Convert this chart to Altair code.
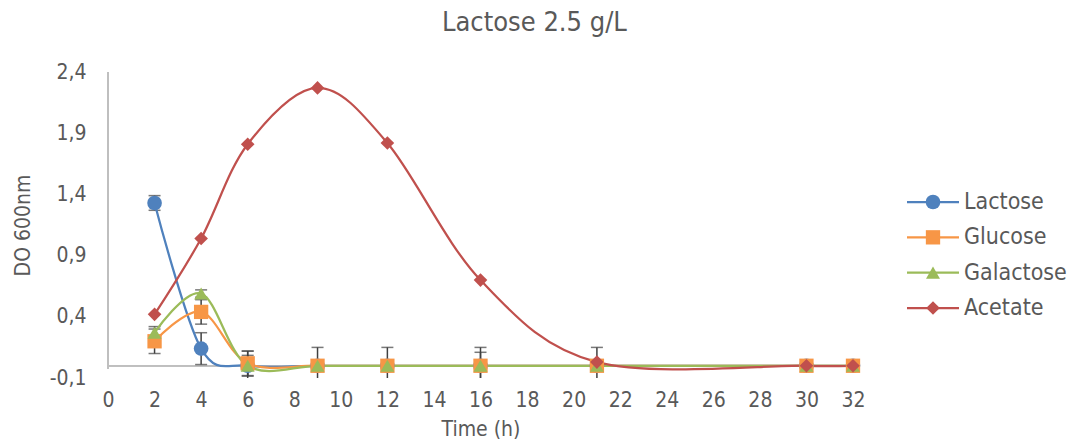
import altair as alt
import pandas as pd

# Sampling times (h)
hours = [2, 4, 6, 9, 12, 16, 21, 30, 32]

# Optical density at 600 nm for each substrate / product
series_names = ["Lactose", "Glucose", "Galactose", "Acetate"]
lactose = [1.33, 0.14, 0.0, 0.0, 0.0, 0.0, 0.0, 0.0, 0.0]
glucose = [0.20, 0.44, 0.02, 0.0, 0.0, 0.0, 0.0, 0.0, 0.0]
galactose = [0.27, 0.59, 0.0, 0.0, 0.0, 0.0, 0.0, 0.0, 0.0]
acetate = [0.42, 1.04, 1.81, 2.27, 1.82, 0.70, 0.03, 0.0, 0.0]

# Standard deviations (0 = no error bar drawn)
lactose_sd = [0.06, 0.13, 0.12, 0.15, 0.15, 0.15, 0.15, 0.0, 0.0]
glucose_sd = [0.10, 0.10, 0.10, 0.0, 0.0, 0.0, 0.0, 0.0, 0.0]
galactose_sd = [0.05, 0.03, 0.085, 0.0, 0.0, 0.11, 0.0, 0.0, 0.0]
acetate_sd = [0.0, 0.0, 0.0, 0.0, 0.0, 0.0, 0.0, 0.0, 0.0]

y_ticks = [-0.1, 0.4, 0.9, 1.4, 1.9, 2.4]
x_ticks = list(range(0, 33, 2))

colors = ["#4F81BD", "#F79646", "#9BBB59", "#C0504D"]
shapes = ["circle", "square", "triangle-up", "diamond"]
marker_sizes = [215, 185, 225, 195]

FONT = "DejaVu Sans Condensed, DejaVu Sans"
TEXT = "#595959"
AXIS = "#BFBFBF"
ERR = "#404040"

values = [lactose, glucose, galactose, acetate]
sds = [lactose_sd, glucose_sd, galactose_sd, acetate_sd]
rows = []
for order, (name, vals, sd) in enumerate(zip(series_names, values, sds)):
    for t, v, s in zip(hours, vals, sd):
        rows.append({"series": name, "order": order, "time": t, "od": v,
                     "lo": v - s, "hi": v + s, "sd": s})
df = pd.DataFrame(rows)

color = alt.Color("series:N", scale=alt.Scale(domain=series_names, range=colors), legend=None)
shape = alt.Shape("series:N", scale=alt.Scale(domain=series_names, range=shapes), legend=None)
size = alt.Size("series:N", scale=alt.Scale(domain=series_names, range=marker_sizes), legend=None)

x_scale = alt.Scale(domain=[0, 32], nice=False, zero=False)
x_enc = alt.X(
    "time:Q",
    scale=x_scale,
    axis=alt.Axis(values=x_ticks, title="Time (h)", domain=False, ticks=False, grid=False,
                  labelFlush=False, labelPadding=11, labelFontSize=21, titleFontSize=21,
                  titleY=51, titleBaseline="middle",
                  labelColor=TEXT, titleColor=TEXT, labelFont=FONT, titleFont=FONT,
                  titleFontWeight="normal"),
)
y_scale = alt.Scale(domain=[-0.1, 2.4], nice=False, zero=False)
y_enc = alt.Y(
    "od:Q",
    scale=y_scale,
    axis=alt.Axis(values=y_ticks, title="DO 600nm", domain=False,
                  ticks=False, grid=False, labelPadding=22,
                  titleX=-85, titleY=153, titleAngle=270, titleAlign="center",
                  titleBaseline="middle",
                  labelExpr="(datum.value < 0 ? '-' : '') + replace(format(abs(datum.value), '.1f'), '.', ',')",
                  labelFontSize=21, titleFontSize=21, labelColor=TEXT, titleColor=TEXT,
                  labelFont=FONT, titleFont=FONT, titleFontWeight="normal"),
)

base = alt.Chart(df)

# Axis lines: horizontal at OD = 0, vertical at t = 0 running down to the crossing
zero_line = base.mark_rule(color=AXIS, strokeWidth=1.5).encode(
    x=alt.datum(0), x2=alt.datum(32), y=alt.datum(0)
)
y_line = base.mark_rule(color=AXIS, strokeWidth=1.5).encode(
    x=alt.datum(0), y=alt.datum(-0.02), y2=alt.datum(2.4)
)

err_df = base.transform_filter("datum.sd > 0")
err_rule = err_df.mark_rule(color=ERR, strokeWidth=1.5, clip=True).encode(
    x="time:Q", y=alt.Y("lo:Q", scale=y_scale), y2="hi:Q"
)
err_top = err_df.mark_tick(color=ERR, thickness=1.5, size=12, orient="horizontal", clip=True).encode(
    x="time:Q", y=alt.Y("hi:Q", scale=y_scale)
)
err_bot = err_df.mark_tick(color=ERR, thickness=1.5, size=12, orient="horizontal", clip=True).encode(
    x="time:Q", y=alt.Y("lo:Q", scale=y_scale)
)

lines = base.mark_line(interpolate="cardinal", strokeWidth=2.25).encode(
    x=x_enc, y=y_enc, color=color, detail="series:N", order="time:Q"
)
points = base.mark_point(filled=True, opacity=1).encode(
    x="time:Q", y="od:Q", color=color, shape=shape, size=size, order="order:Q"
)

plot = alt.layer(zero_line, y_line, err_rule, err_top, err_bot, lines, points).properties(
    width=745, height=306
)

# Legend panel: line segment + marker + label per series
leg_df = pd.DataFrame({"series": series_names})
leg_y = alt.Y("series:N",
              scale=alt.Scale(type="point", domain=series_names, range=[130, 236], padding=0),
              axis=None)
leg_base = alt.Chart(leg_df)
leg_line = leg_base.mark_rule(strokeWidth=2.25).encode(
    x=alt.value(0), x2=alt.value(52), y=leg_y, color=color
)
leg_pt = leg_base.mark_point(filled=True, opacity=1).encode(
    x=alt.value(26), y=leg_y, color=color, shape=shape, size=size
)
leg_txt = leg_base.mark_text(align="left", baseline="middle", fontSize=23, font=FONT, color=TEXT).encode(
    x=alt.value(57), y=leg_y, text="series:N"
)
legend = alt.layer(leg_line, leg_pt, leg_txt).properties(width=150, height=306)

chart = alt.hconcat(plot, legend, spacing=39).properties(
    title=alt.TitleParams("Lactose 2.5 g/L", fontSize=27, font=FONT, color=TEXT,
                          fontWeight="normal", anchor="middle", offset=24, dx=-5),
    padding={"left": 12, "top": 9, "right": 0, "bottom": 0},
    background="white",
).configure_view(stroke=None)

chart.save("out.html", embed_options={"renderer": "svg", "actions": False})
